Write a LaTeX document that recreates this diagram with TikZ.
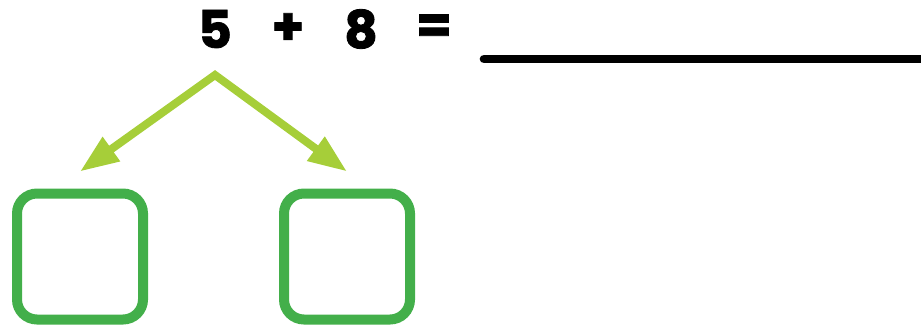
\documentclass[tikz,border=0pt]{standalone}
\usepackage{fontspec}
\setmainfont{Poppins}[BoldFeatures={FakeBold=1.6}]
\usetikzlibrary{positioning, arrows.meta}
\definecolor{leafgreen}{HTML}{A6CE39}
\definecolor{boxgreen}{HTML}{43AF4A}

\begin{document}
\begin{tikzpicture}[x=0.75pt, y=-0.75pt, on grid, node distance=54.75pt,
    sym/.style={font=\fontsize{39}{42}\selectfont\bfseries, inner sep=0pt},
    answer/.style={draw=boxgreen, line width=7.5pt, rounded corners=15pt,
      minimum size=94.5pt, inner sep=0pt, outer sep=0pt},
    split/.style={leafgreen, line width=6pt,
      {Triangle[length=29pt, width=21pt]}-{Triangle[length=29pt, width=21pt]}}]
  \useasboundingbox (0,0) rectangle (921,325);

  % the sum
  \node[sym, anchor=base] (n5) at (215,48) {5};
  \node[sym] (plus) [base right=of n5] {+};
  \node[sym] (n8) [base right=of plus] {8};
  \node[sym] (eq) [base right=of n8] {=};

  % blank for the answer
  \coordinate (lineL) at (484,59);
  \coordinate (lineR) at (935,59);
  \draw[line width=6.5pt, line cap=round] (lineL) -- (lineR);

  % split into two parts
  \node[answer] (b1) at (80,256.5) {};
  \node[answer] (b2) [right=200.25pt of b1] {};
  \coordinate (top) at (215,75);
  \draw[split] ([yshift=16.5pt]b1.north) -- (top) -- ([yshift=16.5pt]b2.north);
\end{tikzpicture}
\end{document}
